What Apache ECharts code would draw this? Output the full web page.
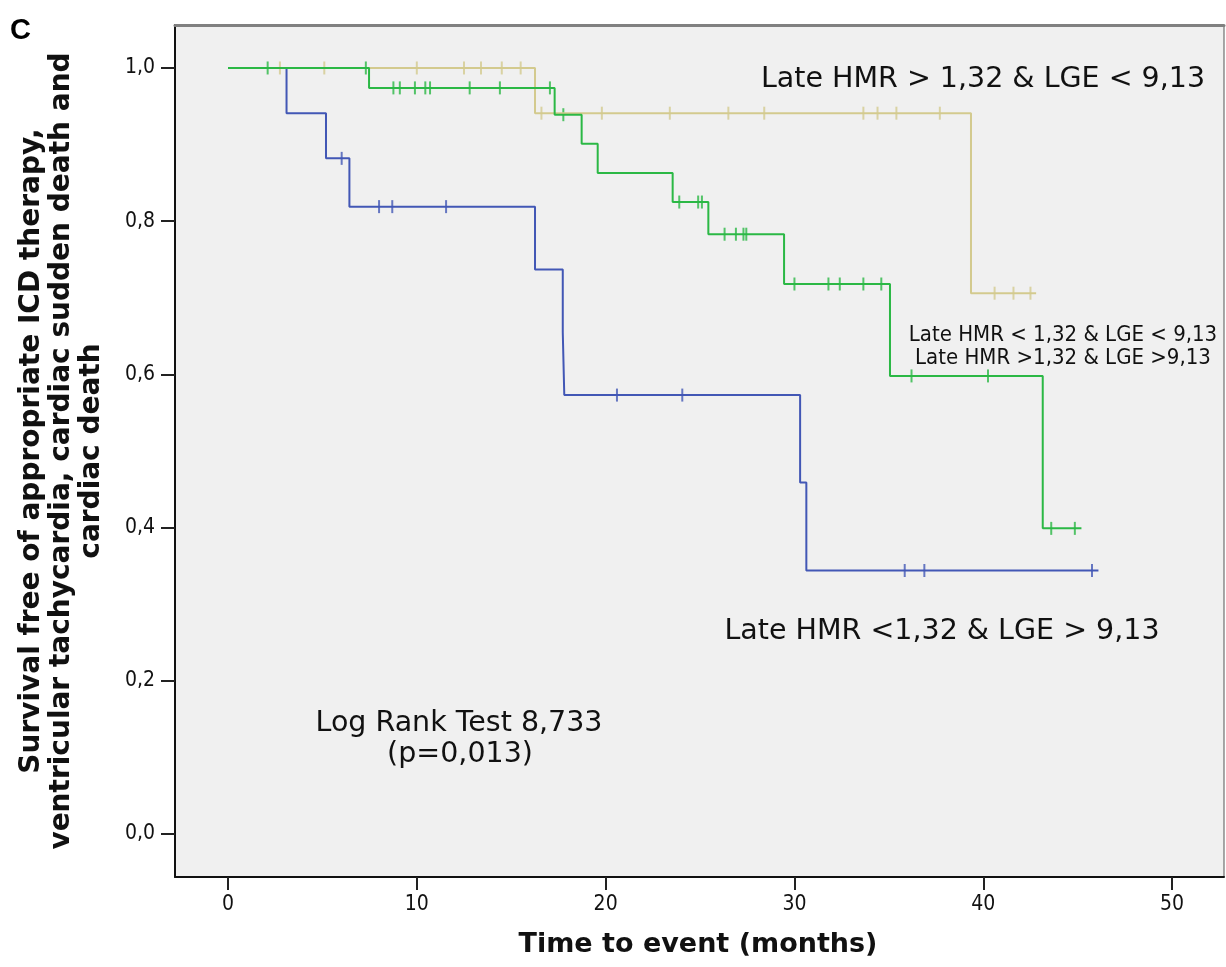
<!DOCTYPE html>
<html>
<head>
<meta charset="utf-8">
<script src="https://cdn.jsdelivr.net/npm/echarts@6/dist/echarts.min.js"></script>
<style>
  html, body { margin: 0; padding: 0; background: #fff; }
  #chart { width: 1226px; height: 967px; }
</style>
</head>
<body>
<div id="chart"></div>
<script>
// Kaplan-Meier curves: [time (months), survival after the drop]
var tanStart = [0, 1.0];
var tanSteps = [[16.26, 0.941], [39.35, 0.706]];
var tanEnd = 42.8;
var tanCensor = [2.75, 5.1, 10.0, 12.5, 13.4, 14.5, 15.5, 16.6, 19.8, 23.4, 26.5, 28.4,
                 33.65, 34.4, 35.4, 37.7, 40.6, 41.6, 42.5];

var greenStart = [0, 1.0];
var greenSteps = [[7.47, 0.974], [17.3, 0.939], [18.73, 0.901], [19.58, 0.863], [23.55, 0.825],
                  [25.44, 0.783], [29.45, 0.718], [35.06, 0.598], [43.15, 0.399]];
var greenEnd = 45.2;
var greenCensor = [2.1, 7.3, 8.76, 9.1, 9.9, 10.45, 10.7, 12.8, 14.4, 17.05, 17.76, 23.9, 24.9, 25.1,
                   26.3, 26.9, 27.3, 27.45, 30.0, 31.8, 32.4, 33.65, 34.6, 36.2, 40.25, 43.6, 44.85];

var blueStart = [0, 1.0];
var blueSteps = [[3.1, 0.941], [5.19, 0.882], [6.43, 0.819], [16.26, 0.737], [17.73, 0.655],
                 [17.81, 0.573], [30.3, 0.459], [30.63, 0.344]];
var blueEnd = 46.1;
var blueCensor = [6.02, 8.0, 8.7, 11.55, 20.6, 24.06, 35.84, 36.88, 45.76];

var xTicks = [0, 10, 20, 30, 40, 50];
var yTicks = [0, 0.2, 0.4, 0.6, 0.8, 1.0];

var TAN = '#d3ca8e', GREEN = '#2bb845', BLUE = '#4257b5';

function curve(start, steps, end) {
    var pts = [start.slice()];
    steps.forEach(function (s) { pts.push([s[0], s[1]]); });
    pts.push([end, steps[steps.length - 1][1]]);
    return pts;
}
// survival level at time t (step function)
function levelAt(start, steps, t) {
    var v = start[1];
    steps.forEach(function (s) { if (s[0] <= t) v = s[1]; });
    return v;
}
function marks(start, steps, times) {
    return times.map(function (t) { return [t, levelAt(start, steps, t)]; });
}

function lineSeries(data, color) {
    return {
        type: 'line', step: 'end', data: data, showSymbol: false, silent: true,
        lineStyle: { color: color, width: 2 }
    };
}
function censorSeries(data, color) {
    return {
        type: 'scatter', data: data, symbol: 'rect', symbolSize: [2, 13], silent: true,
        itemStyle: { color: color }
    };
}

var fmt = function (v) { return v.toFixed(1).replace('.', ','); };
var textFont = '"DejaVu Sans", sans-serif';
var condFont = '"DejaVu Sans Condensed", "DejaVu Sans", sans-serif';

var chart = echarts.init(document.getElementById('chart'));
chart.setOption({
    animation: false,
    backgroundColor: '#ffffff',
    grid: {
        left: 175, right: 2, top: 25, bottom: 90,
        show: true, backgroundColor: '#f0f0f0', borderColor: '#555', borderWidth: 1
    },
    xAxis: [{
        type: 'value', min: -2.807, max: 52.75, position: 'bottom',
        axisLine: { onZero: false, lineStyle: { color: '#111', width: 2 } },
        axisTick: { show: true, length: 13, customValues: xTicks, lineStyle: { color: '#222', width: 2 } },
        axisLabel: { customValues: xTicks, margin: 17, color: '#111', fontFamily: condFont, fontSize: 21 },
        splitLine: { show: false }
    }, {
        type: 'value', min: -2.807, max: 52.75, position: 'top',
        axisLine: { onZero: false, lineStyle: { color: '#808080', width: 3 } },
        axisTick: { show: false }, axisLabel: { show: false }, splitLine: { show: false }
    }],
    yAxis: {
        type: 'value', min: -0.0561, max: 1.0561,
        axisLine: { show: true, onZero: false, lineStyle: { color: '#111', width: 2 } },
        axisTick: { show: true, length: 14, customValues: yTicks, lineStyle: { color: '#222', width: 2 } },
        axisLabel: { customValues: yTicks, formatter: fmt, margin: 20, color: '#111',
                     fontFamily: condFont, fontSize: 21 },
        splitLine: { show: false }
    },
    series: [
        lineSeries(curve(blueStart, blueSteps, blueEnd), BLUE),
        censorSeries(marks(blueStart, blueSteps, blueCensor), BLUE),
        lineSeries(curve(tanStart, tanSteps, tanEnd), TAN),
        censorSeries(marks(tanStart, tanSteps, tanCensor), TAN),
        lineSeries(curve(greenStart, greenSteps, greenEnd), GREEN),
        censorSeries(marks(greenStart, greenSteps, greenCensor), GREEN)
    ],
    graphic: [
        { type: 'text', x: 10, y: 16, style: { text: 'C', font: 'bold 29px "Liberation Sans", Arial', fill: '#000' } },
        { type: 'text', x: 62, y: 451, rotation: Math.PI / 2,
          style: { text: 'Survival free of appropriate ICD therapy,\nventricular tachycardia, cardiac sudden death and\ncardiac death',
                   align: 'center', verticalAlign: 'middle', lineHeight: 30,
                   font: 'bold 28px "DejaVu Sans", sans-serif', fill: '#111' } },
        { type: 'text', x: 698, y: 945,
          style: { text: 'Time to event (months)', align: 'center', verticalAlign: 'middle',
                   font: 'bold 27px "DejaVu Sans", sans-serif', fill: '#111' } },
        { type: 'text', x: 983, y: 80,
          style: { text: 'Late HMR > 1,32 & LGE < 9,13', align: 'center', verticalAlign: 'middle',
                   font: '28.5px ' + textFont, fill: '#111' } },
        { type: 'text', x: 1063, y: 335,
          style: { text: 'Late HMR < 1,32 & LGE < 9,13', align: 'center', verticalAlign: 'middle',
                   font: '22px ' + condFont, fill: '#111' } },
        { type: 'text', x: 1063, y: 358,
          style: { text: 'Late HMR >1,32 & LGE >9,13', align: 'center', verticalAlign: 'middle',
                   font: '22px ' + condFont, fill: '#111' } },
        { type: 'text', x: 942, y: 632,
          style: { text: 'Late HMR <1,32 & LGE > 9,13', align: 'center', verticalAlign: 'middle',
                   font: '28.5px ' + textFont, fill: '#111' } },
        { type: 'text', x: 459, y: 724,
          style: { text: 'Log Rank Test 8,733', align: 'center', verticalAlign: 'middle',
                   font: '28.5px ' + textFont, fill: '#111' } },
        { type: 'text', x: 460, y: 755,
          style: { text: '(p=0,013)', align: 'center', verticalAlign: 'middle',
                   font: '28.5px ' + textFont, fill: '#111' } }
    ]
});
</script>
</body>
</html>
